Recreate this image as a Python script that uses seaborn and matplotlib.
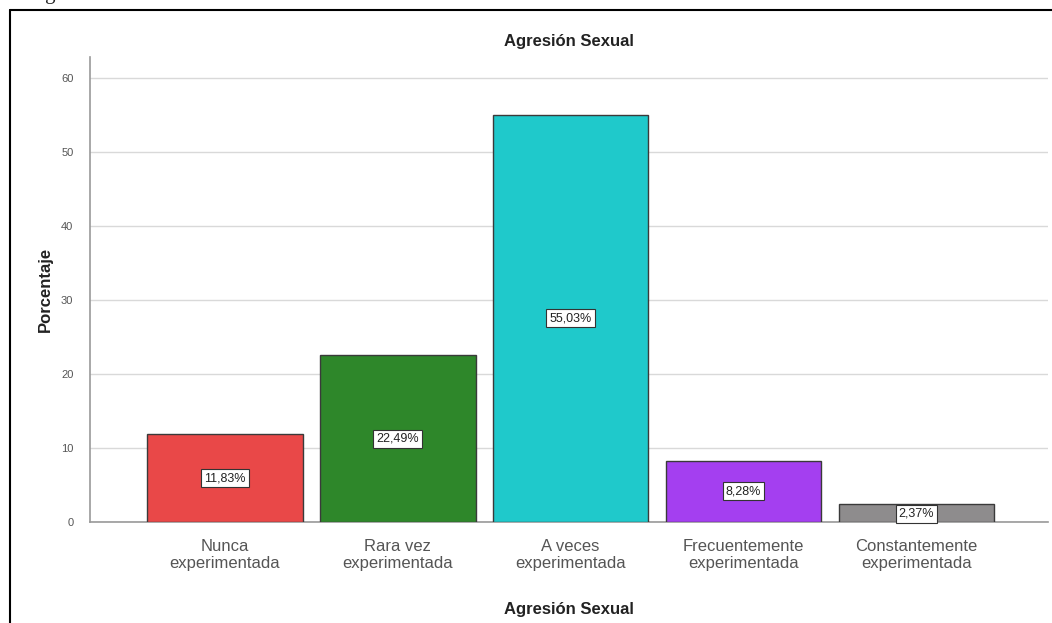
import matplotlib
matplotlib.use("Agg")
import matplotlib.pyplot as plt
import seaborn as sns
import pandas as pd
from matplotlib.lines import Line2D

categories = ["Nunca\nexperimentada", "Rara vez\nexperimentada", "A veces\nexperimentada",
              "Frecuentemente\nexperimentada", "Constantemente\nexperimentada"]
values = [11.83, 22.49, 55.03, 8.28, 2.37]
labels = ["11,83%", "22,49%", "55,03%", "8,28%", "2,37%"]
colors = ["#E94848", "#2E872A", "#1FC9CB", "#A43FF0", "#8E8C8D"]
yticks = [0, 10, 20, 30, 40, 50, 60]

sns.set_style("white")
plt.rcParams["font.family"] = ["Liberation Sans", "DejaVu Sans"]

df = pd.DataFrame({"cat": categories, "val": values})

fig = plt.figure(figsize=(10.52, 6.23), dpi=100)
ax = fig.add_axes([0.0856, 0.1621, 0.9104, 0.7464])

sns.barplot(data=df, x="cat", y="val", hue="cat", palette=colors, legend=False,
            saturation=1, width=0.9, edgecolor="#3a3a3a", linewidth=1.0, ax=ax, zorder=3)

ax.set_xlim(-0.78, 4.76)
ax.set_ylim(0, 62.8)
ax.set_yticks(yticks)
ax.set_yticklabels([str(t) for t in yticks], fontsize=8, color="#555555")
ax.tick_params(axis="x", labelsize=12, colors="#555555", length=0, pad=12)
ax.tick_params(axis="y", length=0, pad=12)
ax.yaxis.grid(True, color="#d9d9d9", linewidth=1.0, zorder=0)
ax.set_axisbelow(True)
for s in ["top", "right"]:
    ax.spines[s].set_visible(False)
for s in ["left", "bottom"]:
    ax.spines[s].set_color("#999999")
    ax.spines[s].set_linewidth(1.2)

ax.set_xlabel("Agresión Sexual", fontsize=12, fontweight="bold", color="#222222", labelpad=22)
ax.set_ylabel("Porcentaje", fontsize=12, fontweight="bold", color="#222222", labelpad=6)
ax.set_title("Agresión Sexual", fontsize=12, fontweight="bold", color="#222222", pad=8)

for i, (v, lab) in enumerate(zip(values, labels)):
    y = v / 2 if v > 5 else 1.1
    ax.text(i, y, lab, ha="center", va="center", fontsize=9, color="#222222", zorder=5,
            bbox=dict(boxstyle="square,pad=0.25", facecolor="white", edgecolor="#333333", linewidth=0.8))

# document frame
fig.add_artist(Line2D([10/1052, 10/1052], [0, 1 - 10/623], transform=fig.transFigure,
                      color="black", linewidth=1.5))
fig.add_artist(Line2D([10/1052, 1], [1 - 10/623, 1 - 10/623], transform=fig.transFigure,
                      color="black", linewidth=1.5))
# clipped caption at top (cut off in the reference as well)
fig.text(30/1052, 1 + 6/623, "Agresión sexual", fontsize=15, family=["Liberation Serif"],
         color="#222222", ha="left", va="center")

fig.savefig("out.png", dpi=100)
